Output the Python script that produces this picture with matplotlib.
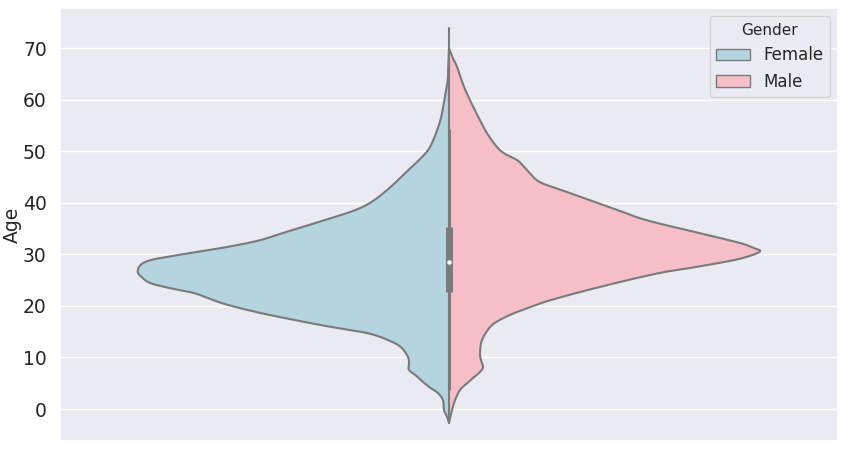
import numpy as np
import matplotlib
matplotlib.use("Agg")
import matplotlib.pyplot as plt
import seaborn as sns
from matplotlib.patches import Patch

# Density outline: age vs relative half-width (peak = 1)
female_age = [70.0, 66.5, 63.8, 59.9, 56.5, 53.5, 50.5, 48.3, 46.5, 44.4, 42.3, 40.1, 38.5, 36.6,
              34.7, 32.8, 31.5, 30.2, 29.5, 28.9, 28.0, 26.6, 25.4, 24.4, 23.5, 22.5, 21.3, 20.2,
              18.7, 17.3, 16.0, 14.7, 13.3, 12.0, 10.1, 8.8, 7.6, 6.5, 5.6, 4.3, 3.1, 1.7, -0.2,
              -1.5, -2.7]
female_dens = [0, 0.8, 1.3, 4.7, 8, 13, 20, 30, 40, 51, 63, 78, 95, 125, 157, 188, 220, 261, 282,
               298, 308, 311, 306, 298, 280, 255, 238, 221, 190, 155, 120, 81, 60, 48, 41, 40, 40,
               33, 28, 20, 11, 6, 5, 2, 0]
male_age = [70.0, 68.0, 66.4, 63.0, 59.9, 56.0, 53.5, 50.8, 49.5, 48.3, 47.0, 45.7, 44.0, 42.3,
            40.5, 38.5, 36.6, 34.1, 32.2, 31.2, 30.7, 30.0, 28.9, 27.5, 26.3, 23.7, 21.1, 19.8,
            18.6, 17.2, 15.9, 13.4, 10.9, 9.5, 8.1, 7.0, 6.2, 5.0, 3.7, 1.7, -0.2, -2.7]
male_dens = [0, 4, 8, 14, 21, 31, 38, 48, 56, 68, 75, 81, 91, 115, 141, 170, 198, 251, 291, 305,
             311, 305, 285, 245, 208, 151, 101, 82, 65, 50, 41, 33, 31, 32, 34, 30, 25, 18, 11, 6,
             3, 0]

# Box summary (combined)
q1, median, q3 = 22.7, 28.5, 35.3
whisk_lo, whisk_hi = 3.8, 54.2
range_lo, range_hi = -2.7, 74.0

genders = ["Female", "Male"]
base_colors = ["lightblue", "lightpink"]


def smooth_curve(x, y, n=12):
    """Catmull-Rom spline through the points, for drawing a smooth outline."""
    x = np.asarray(x, float); y = np.asarray(y, float)
    px = np.concatenate([[x[0]], x, [x[-1]]])
    py = np.concatenate([[y[0]], y, [y[-1]]])
    xs, ys = [], []
    t = np.linspace(0, 1, n, endpoint=False)
    for i in range(1, len(px) - 2):
        for arr, out in ((px, xs), (py, ys)):
            p0, p1, p2, p3 = arr[i - 1], arr[i], arr[i + 1], arr[i + 2]
            out.extend(0.5 * ((2 * p1) + (-p0 + p2) * t + (2 * p0 - 5 * p1 + 4 * p2 - p3) * t ** 2
                              + (-p0 + 3 * p1 - 3 * p2 + p3) * t ** 3))
    xs.append(x[-1]); ys.append(y[-1])
    return np.array(xs), np.clip(np.array(ys), 0, None)


sns.set_theme(style="darkgrid")
plt.rcParams['font.family'] = ['DejaVu Sans']

fig = plt.figure(figsize=(8.52, 4.49), dpi=100)
ax = fig.add_axes([0.0704, 0.0178, 0.9132, 0.9644])

colors = [sns.desaturate(c, 0.75) for c in base_colors]
edge = "#7a7a7a"
peak = max(max(female_dens), max(male_dens))

fa, fd = smooth_curve(female_age, np.array(female_dens) / peak * 0.4)
ma, md = smooth_curve(male_age, np.array(male_dens) / peak * 0.4)

ax.fill_betweenx(fa, -fd, 0, facecolor=colors[0], edgecolor="none", zorder=2)
ax.plot(-fd, fa, color=edge, lw=1.5, zorder=3)
ax.fill_betweenx(ma, 0, md, facecolor=colors[1], edgecolor="none", zorder=2)
ax.plot(md, ma, color=edge, lw=1.5, zorder=3)

# inner box
ax.plot([0, 0], [range_lo, range_hi], color=edge, lw=1.5, zorder=4)
ax.plot([0, 0], [whisk_lo, whisk_hi], color=edge, lw=2.2, zorder=4)
ax.plot([0, 0], [q1, q3], color=edge, lw=5, solid_capstyle="butt", zorder=5)
ax.scatter([0], [median], s=5, color="white", zorder=6)

ax.set_xlim(-0.5, 0.5)
ax.set_ylim(-6.2, 77.8)
ax.set_xticks([])
ax.set_yticks([0, 10, 20, 30, 40, 50, 60, 70])
ax.tick_params(axis="y", labelsize=13.5)
ax.set_ylabel("Age", fontsize=13.5)
ax.yaxis.set_label_coords(-0.049, 0.5)
ax.set_xlabel("")

handles = [Patch(facecolor=colors[i], edgecolor=edge, label=genders[i]) for i in range(2)]
ax.legend(handles=handles, title="Gender", loc="upper right", fontsize=12, title_fontsize=11)

fig.savefig("out.png", dpi=100)
